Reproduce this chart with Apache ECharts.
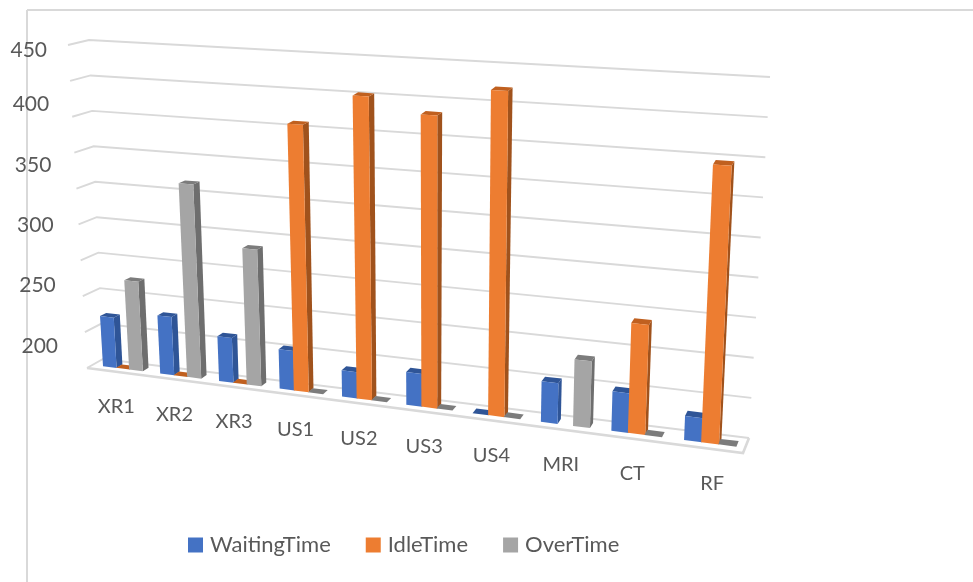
<!DOCTYPE html>
<html>
<head>
<meta charset="utf-8">
<style>
  html, body { margin: 0; padding: 0; background: #fff; }
  #main { width: 973px; height: 582px; }
</style>
</head>
<body>
<div id="main"></div>
<script src="https://cdn.jsdelivr.net/npm/echarts@6/dist/echarts.min.js"></script>
<script>
const categories = ['XR1', 'XR2', 'XR3', 'US1', 'US2', 'US3', 'US4', 'MRI', 'CT', 'RF'];
const waitingTime = [70, 80, 61, 53, 35, 43, 0, 52, 50, 30];
const idleTime = [0, 0, 0, 359, 403, 384, 422, null, 139, 347];
const overTime = [124, 266, 185, 0, 0, 0, 0, 85, 0, 0];
const gridValues = [0, 50, 100, 150, 200, 250, 300, 350, 400, 450];
const tickLabels = [200, 250, 300, 350, 400, 450];

const chart = echarts.init(document.getElementById('main'));

// corners of the tilted box, the picture is a 3d column chart
const wallBack = { bl: [103, 359], br: [749, 438], tl: [89, 40], tr: [770, 77] };
const wallFront = { bl: [87, 368], br: [743, 453], tl: [68, 45], tr: [763, 89] };
const foreshorten = 0.86;
const depthFrom = 0.35;
const depthTo = 0.72;
const barBand = 0.24;
const barLean = 2.5; // columns lean a little less than the wall

function lerp(a, b, k) {
  return [a[0] + (b[0] - a[0]) * k, a[1] + (b[1] - a[1]) * k];
}

// t: along categories 0-1, w: depth 0-1, v: height 0-1
function project(t, w, v) {
  const s = foreshorten * t / (1 - (1 - foreshorten) * t);
  const front = lerp(lerp(wallFront.bl, wallFront.br, s), lerp(wallFront.tl, wallFront.tr, s), v);
  const back = lerp(lerp(wallBack.bl, wallBack.br, s), lerp(wallBack.tl, wallBack.tr, s), v);
  return lerp(front, back, w);
}

function barPoint(t, w, v) {
  const p = project(t, w, v);
  return [p[0] - barLean * v, p[1]];
}

function unit(params, api, point) {
  const sys = params.coordSys;
  const c = api.coord(point);
  return [(c[0] - sys.x) / sys.width, (sys.y + sys.height - c[1]) / sys.height];
}

function barSeries(name, values, slot, colors) {
  return {
    name: name,
    type: 'custom',
    coordinateSystem: 'cartesian2d',
    xAxisIndex: 0,
    yAxisIndex: 0,
    clip: false,
    itemStyle: { color: colors[0] },
    encode: { x: 0, y: 1 },
    data: values.map(function (v, i) { return [i, v]; }),
    renderItem: function (params, api) {
      if (isNaN(api.value(1))) return null;
      const pos = unit(params, api, [api.value(0), api.value(1)]);
      const band = api.size([1, 0])[0] / params.coordSys.width;
      const t0 = pos[0] + (slot - 1.5) * 0.23 * band + 0.003;
      const t1 = t0 + barBand * band;
      const v = pos[1];
      const face = function (pts, fill) {
        return { type: 'polygon', shape: { points: pts }, style: { fill: fill } };
      };
      return {
        type: 'group',
        children: [
          face([barPoint(t1, depthFrom, 0), barPoint(t1, depthTo, 0), barPoint(t1, depthTo, v), barPoint(t1, depthFrom, v)], colors[1]),
          face([barPoint(t0, depthFrom, v), barPoint(t1, depthFrom, v), barPoint(t1, depthTo, v), barPoint(t0, depthTo, v)], colors[2]),
          face([barPoint(t0, depthFrom, 0), barPoint(t1, depthFrom, 0), barPoint(t1, depthFrom, v), barPoint(t0, depthFrom, v)], colors[0])
        ]
      };
    }
  };
}

const lineStyle = { stroke: '#d9d9d9', lineWidth: 1.9, fill: 'none' };

const option = {
  animation: false,
  backgroundColor: '#fff',
  textStyle: { fontFamily: 'Lato' },
  grid: [
    { left: 0, right: 0, top: 0, bottom: 0, show: false },
    { left: 58, width: 10, top: 49, height: 296, show: false }
  ],
  xAxis: [
    { type: 'category', gridIndex: 0, data: categories, show: false },
    { type: 'value', gridIndex: 1, min: 0, max: 1, show: false }
  ],
  yAxis: [
    { type: 'value', gridIndex: 0, min: 0, max: 450, interval: 50, show: false },
    { type: 'value', gridIndex: 1, min: 200, max: 450, interval: 50, show: false }
  ],
  legend: {
    left: 188,
    top: 534,
    padding: 0,
    icon: 'rect',
    itemWidth: 15,
    itemHeight: 15,
    itemGap: 35,
    selectedMode: false,
    textStyle: { fontFamily: 'Lato', fontSize: 22, color: '#595959', padding: [0, 0, 0, 2] },
    data: ['WaitingTime', 'IdleTime', 'OverTime']
  },
  graphic: [
    { type: 'line', silent: true, shape: { x1: 27, y1: 10, x2: 973, y2: 10 }, style: { stroke: '#d9d9d9', lineWidth: 2 } },
    { type: 'line', silent: true, shape: { x1: 27, y1: 10, x2: 27, y2: 582 }, style: { stroke: '#d9d9d9', lineWidth: 2 } }
  ],
  series: [
    {
      // wall lines and the floor
      type: 'custom',
      xAxisIndex: 0,
      yAxisIndex: 0,
      clip: false,
      silent: true,
      data: gridValues.map(function (v) { return [0, v]; }),
      renderItem: function (params, api) {
        const v = unit(params, api, [0, api.value(1)])[1];
        const children = [{
          type: 'polyline',
          shape: { points: [project(0, 0, v), project(0, 1, v), project(1, 1, v)] },
          style: lineStyle
        }];
        if (api.value(1) === 0) {
          children.push({
            type: 'polyline',
            shape: { points: [project(0, 0, 0), project(1, 0, 0), project(1, 1, 0)] },
            style: { stroke: '#d9d9d9', lineWidth: 2.6, fill: 'none' }
          });
        }
        return { type: 'group', children: children };
      }
    },
    {
      // category labels follow the front edge of the floor
      type: 'custom',
      xAxisIndex: 0,
      yAxisIndex: 0,
      clip: false,
      silent: true,
      data: categories.map(function (c, i) { return [i, 0, c]; }),
      renderItem: function (params, api) {
        const pos = unit(params, api, [api.value(0), 0]);
        const p = project(pos[0], 0, 0);
        return {
          type: 'text',
          style: {
            x: p[0] + 1 + (pos[0] > 0.9 ? 6 : 0),
            y: p[1] + 35,
            text: categories[api.value(0)],
            fill: '#595959',
            font: '20px Lato',
            align: 'center',
            verticalAlign: 'middle'
          }
        };
      }
    },
    {
      // value labels lean with the box so they drift sideways
      type: 'custom',
      xAxisIndex: 1,
      yAxisIndex: 1,
      clip: false,
      silent: true,
      data: tickLabels.map(function (v) { return [0, v]; }),
      renderItem: function (params, api) {
        const val = api.value(1);
        const c = api.coord([0, val]);
        const nudge = { 450: 1, 400: -4, 350: -2, 300: -1, 250: -1, 200: 1 };
        return {
          type: 'text',
          style: {
            x: 58 - (val - 200) / 250 * 11,
            y: c[1] + nudge[val],
            text: String(val),
            fill: '#595959',
            font: '21px Lato',
            align: 'right',
            verticalAlign: 'middle'
          }
        };
      }
    },
    barSeries('WaitingTime', waitingTime, 0, ['#4472C4', '#2F5597', '#2F5597']),
    barSeries('IdleTime', idleTime, 1, ['#ED7D31', '#A0521C', '#C0601F']),
    barSeries('OverTime', overTime, 2, ['#A5A5A5', '#6E6E6E', '#7C7C7C'])
  ]
};

chart.setOption(option);
</script>
</body>
</html>
